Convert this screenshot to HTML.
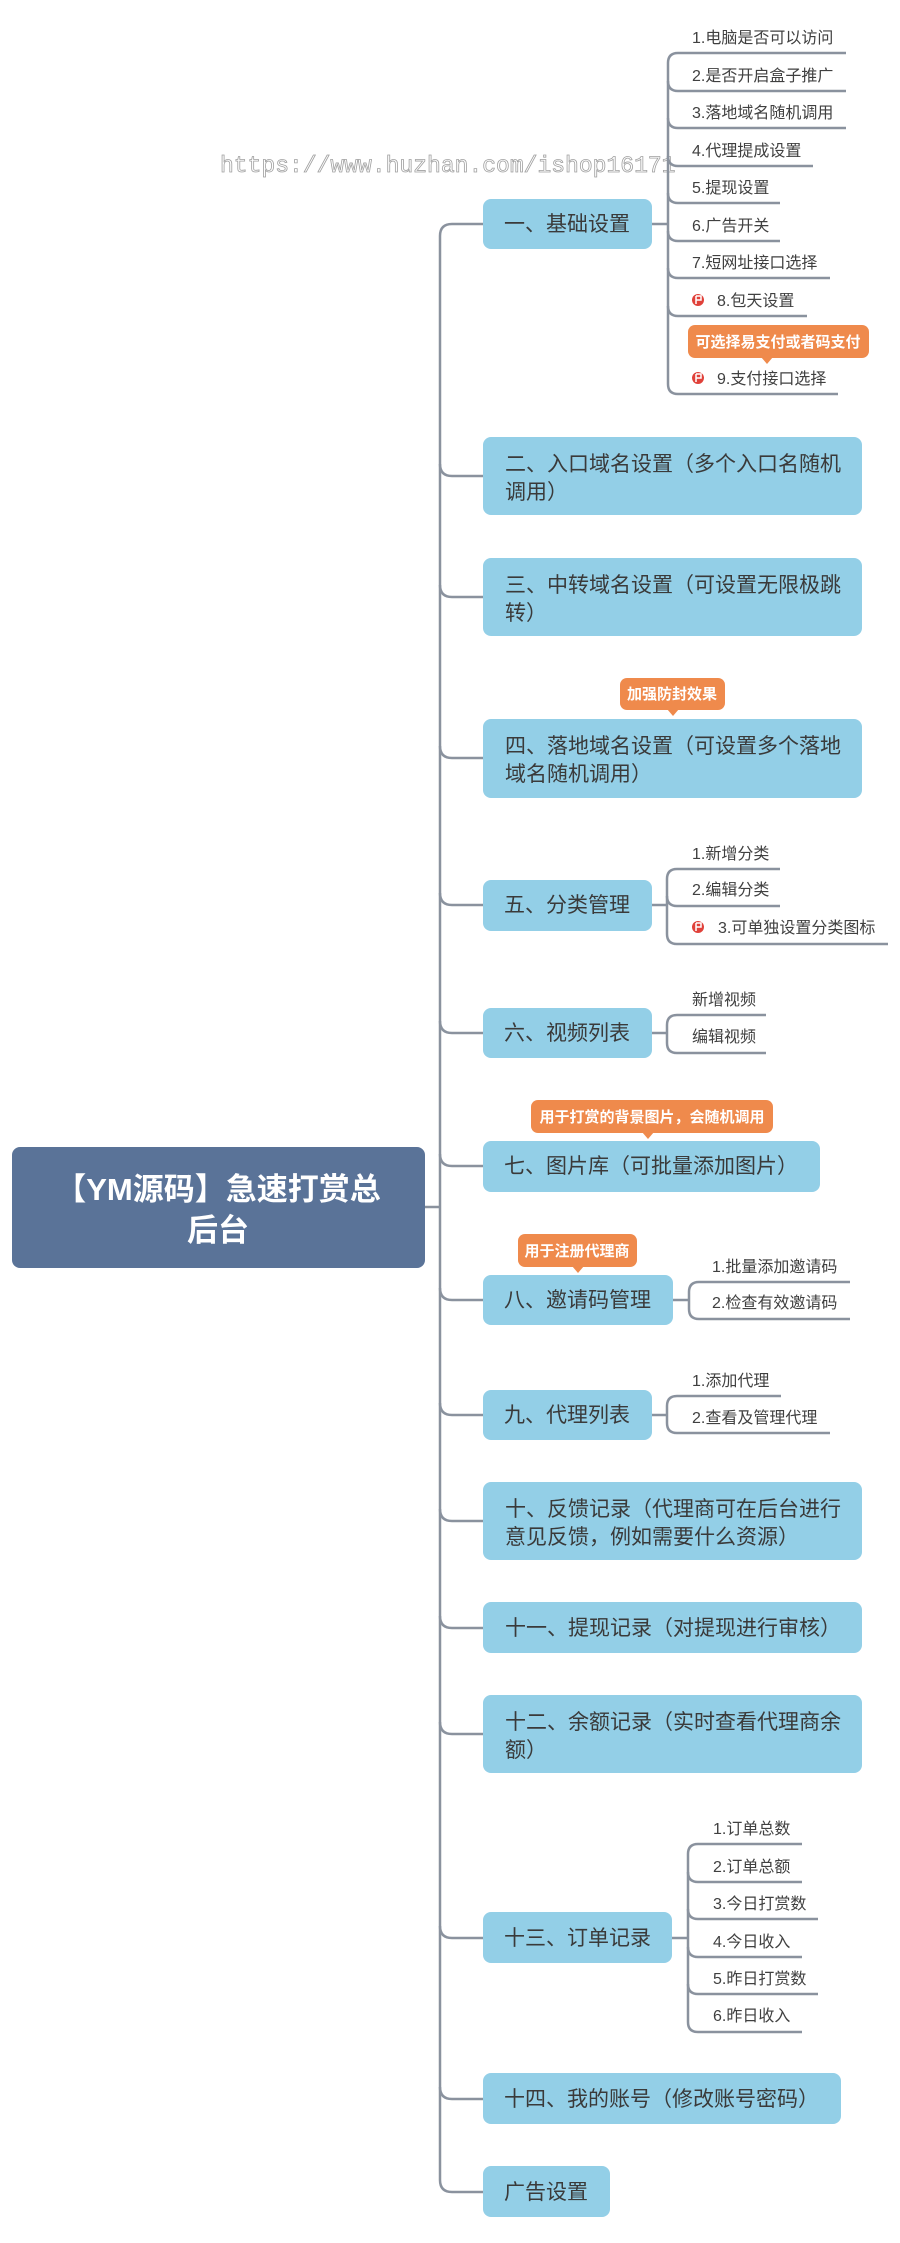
<!DOCTYPE html>
<html><head><meta charset="utf-8"><style>
html,body{margin:0;padding:0;background:#fff;}
svg{display:block;}
text{font-family:"Liberation Sans","Noto Sans CJK SC",sans-serif;}
.n{font-size:21px;fill:#3a3a3a;}
.c{font-size:16px;fill:#404040;}
.k{font-size:15px;fill:#fff;font-weight:bold;}
.box{fill:#93cfe7;}
.cl{fill:#ef8a4c;}
.ln{fill:none;stroke:#8a929e;stroke-width:2.5;}
</style></head><body>
<svg width="900" height="2243" viewBox="0 0 900 2243" xmlns="http://www.w3.org/2000/svg">
<text x="220" y="172" style="font-family:'Liberation Mono',monospace;font-size:23px;fill:#fff;stroke:#a0a0a0;stroke-width:0.8">https://www.huzhan.com/ishop16171</text>

<!-- trunk -->
<g class="ln">
<path d="M440 1207 H424"/>
<path d="M483 224 H452 Q440 224 440 236 V2180 Q440 2192 452 2192 H483"/>
<path d="M440 464 Q440 476 452 476 H483"/>
<path d="M440 585 Q440 597 452 597 H483"/>
<path d="M440 746 Q440 758 452 758 H483"/>
<path d="M440 893 Q440 905 452 905 H483"/>
<path d="M440 1021 Q440 1033 452 1033 H483"/>
<path d="M440 1154 Q440 1166 452 1166 H483"/>
<path d="M440 1288 Q440 1300 452 1300 H483"/>
<path d="M440 1403 Q440 1415 452 1415 H483"/>
<path d="M440 1509 Q440 1521 452 1521 H483"/>
<path d="M440 1616 Q440 1628 452 1628 H483"/>
<path d="M440 1722 Q440 1734 452 1734 H483"/>
<path d="M440 1926 Q440 1938 452 1938 H483"/>
<path d="M440 2087 Q440 2099 452 2099 H483"/>
</g>

<!-- root -->
<rect x="12" y="1147" width="413" height="121" rx="8" fill="#5a7398"/>
<text x="218" y="1200" text-anchor="middle" style="font-size:31px;font-weight:bold;fill:#fff">【YM源码】急速打赏总</text>
<text x="218" y="1241" text-anchor="middle" style="font-size:31px;font-weight:bold;fill:#fff">后台</text>

<!-- node 1 -->
<rect class="box" x="483" y="199" width="169" height="50" rx="8"/>
<text class="n" x="504" y="231">一、基础设置</text>
<g class="ln">
<path d="M652 224 H668"/>
<path d="M668 63 Q668 53 678 53 H846 M668 63 V384 Q668 394 678 394 H838"/>
<path d="M668 81 Q668 91 678 91 H846"/>
<path d="M668 118 Q668 128 678 128 H846"/>
<path d="M668 156 Q668 166 678 166 H813"/>
<path d="M668 193 Q668 203 678 203 H780"/>
<path d="M668 231 Q668 241 678 241 H780"/>
<path d="M668 268 Q668 278 678 278 H830"/>
<path d="M668 306 Q668 316 678 316 H807"/>
</g>
<text class="c" x="692" y="43">1.电脑是否可以访问</text>
<text class="c" x="692" y="81">2.是否开启盒子推广</text>
<text class="c" x="692" y="118">3.落地域名随机调用</text>
<text class="c" x="692" y="156">4.代理提成设置</text>
<text class="c" x="692" y="193">5.提现设置</text>
<text class="c" x="692" y="231">6.广告开关</text>
<text class="c" x="692" y="268">7.短网址接口选择</text>
<circle cx="698" cy="300" r="6" fill="#e0413a"/><path d="M696 296 V304 M696 296 H701 V300 H696" stroke="#fff" stroke-width="1.5" fill="none"/>
<text class="c" x="717" y="306">8.包天设置</text>
<rect class="cl" x="688" y="325" width="181" height="33" rx="7"/>
<path class="cl" d="M761 357 L767 364 L773 357 Z"/>
<text class="k" x="778" y="347" text-anchor="middle">可选择易支付或者码支付</text>
<circle cx="698" cy="378" r="6" fill="#e0413a"/><path d="M696 374 V382 M696 374 H701 V378 H696" stroke="#fff" stroke-width="1.5" fill="none"/>
<text class="c" x="717" y="384">9.支付接口选择</text>

<!-- node 2 -->
<rect class="box" x="483" y="437" width="379" height="78" rx="8"/>
<text class="n" x="505" y="471">二、入口域名设置（多个入口名随机</text>
<text class="n" x="505" y="499">调用）</text>

<!-- node 3 -->
<rect class="box" x="483" y="558" width="379" height="78" rx="8"/>
<text class="n" x="505" y="592">三、中转域名设置（可设置无限极跳</text>
<text class="n" x="505" y="620">转）</text>

<!-- node 4 -->
<rect class="cl" x="620" y="678" width="105" height="32" rx="7"/>
<path class="cl" d="M667 709 L673 716 L679 709 Z"/>
<text class="k" x="672" y="699" text-anchor="middle">加强防封效果</text>
<rect class="box" x="483" y="719" width="379" height="79" rx="8"/>
<text class="n" x="505" y="753">四、落地域名设置（可设置多个落地</text>
<text class="n" x="505" y="781">域名随机调用）</text>

<!-- node 5 -->
<rect class="box" x="483" y="880" width="169" height="51" rx="8"/>
<text class="n" x="504" y="912">五、分类管理</text>
<g class="ln">
<path d="M652 905 H667"/>
<path d="M667 879 Q667 869 677 869 H780 M667 879 V934 Q667 944 677 944 H888"/>
<path d="M667 896 Q667 906 677 906 H780"/>
</g>
<text class="c" x="692" y="859">1.新增分类</text>
<text class="c" x="692" y="895">2.编辑分类</text>
<circle cx="698" cy="927" r="6" fill="#e0413a"/><path d="M696 923 V931 M696 923 H701 V927 H696" stroke="#fff" stroke-width="1.5" fill="none"/>
<text class="c" x="718" y="933">3.可单独设置分类图标</text>

<!-- node 6 -->
<rect class="box" x="483" y="1008" width="169" height="50" rx="8"/>
<text class="n" x="504" y="1040">六、视频列表</text>
<g class="ln">
<path d="M652 1033 H667"/>
<path d="M667 1025 Q667 1015 677 1015 H766 M667 1025 V1043 Q667 1053 677 1053 H766"/>
</g>
<text class="c" x="692" y="1005">新增视频</text>
<text class="c" x="692" y="1042">编辑视频</text>

<!-- node 7 -->
<rect class="cl" x="531" y="1100" width="242" height="33" rx="7"/>
<path class="cl" d="M642 1132 L648 1139 L654 1132 Z"/>
<text class="k" x="652" y="1122" text-anchor="middle">用于打赏的背景图片，会随机调用</text>
<rect class="box" x="483" y="1141" width="337" height="51" rx="8"/>
<text class="n" x="504" y="1173">七、图片库（可批量添加图片）</text>

<!-- node 8 -->
<rect class="cl" x="518" y="1234" width="119" height="33" rx="7"/>
<path class="cl" d="M572 1266 L578 1273 L584 1266 Z"/>
<text class="k" x="577" y="1256" text-anchor="middle">用于注册代理商</text>
<rect class="box" x="483" y="1275" width="190" height="50" rx="8"/>
<text class="n" x="504" y="1307">八、邀请码管理</text>
<g class="ln">
<path d="M673 1300 H689"/>
<path d="M689 1292 Q689 1282 699 1282 H850 M689 1292 V1309 Q689 1319 699 1319 H850"/>
</g>
<text class="c" x="712" y="1272">1.批量添加邀请码</text>
<text class="c" x="712" y="1308">2.检查有效邀请码</text>

<!-- node 9 -->
<rect class="box" x="483" y="1390" width="169" height="50" rx="8"/>
<text class="n" x="504" y="1422">九、代理列表</text>
<g class="ln">
<path d="M652 1415 H667"/>
<path d="M667 1406 Q667 1396 677 1396 H781 M667 1406 V1423 Q667 1433 677 1433 H830"/>
</g>
<text class="c" x="692" y="1386">1.添加代理</text>
<text class="c" x="692" y="1423">2.查看及管理代理</text>

<!-- node 10 -->
<rect class="box" x="483" y="1482" width="379" height="78" rx="8"/>
<text class="n" x="505" y="1516">十、反馈记录（代理商可在后台进行</text>
<text class="n" x="505" y="1544">意见反馈，例如需要什么资源）</text>

<!-- node 11 -->
<rect class="box" x="483" y="1602" width="379" height="51" rx="8"/>
<text class="n" x="505" y="1635">十一、提现记录（对提现进行审核）</text>

<!-- node 12 -->
<rect class="box" x="483" y="1695" width="379" height="78" rx="8"/>
<text class="n" x="505" y="1729">十二、余额记录（实时查看代理商余</text>
<text class="n" x="505" y="1757">额）</text>

<!-- node 13 -->
<rect class="box" x="483" y="1912" width="189" height="51" rx="8"/>
<text class="n" x="504" y="1945">十三、订单记录</text>
<g class="ln">
<path d="M672 1938 H688"/>
<path d="M688 1854 Q688 1844 698 1844 H802 M688 1854 V2022 Q688 2032 698 2032 H802"/>
<path d="M688 1872 Q688 1882 698 1882 H802"/>
<path d="M688 1909 Q688 1919 698 1919 H818"/>
<path d="M688 1947 Q688 1957 698 1957 H802"/>
<path d="M688 1984 Q688 1994 698 1994 H818"/>
</g>
<text class="c" x="713" y="1834">1.订单总数</text>
<text class="c" x="713" y="1872">2.订单总额</text>
<text class="c" x="713" y="1909">3.今日打赏数</text>
<text class="c" x="713" y="1947">4.今日收入</text>
<text class="c" x="713" y="1984">5.昨日打赏数</text>
<text class="c" x="713" y="2021">6.昨日收入</text>

<!-- node 14 -->
<rect class="box" x="483" y="2073" width="358" height="51" rx="8"/>
<text class="n" x="504" y="2106">十四、我的账号（修改账号密码）</text>

<!-- node 15 -->
<rect class="box" x="483" y="2166" width="127" height="51" rx="8"/>
<text class="n" x="504" y="2199">广告设置</text>
</svg>
</body></html>
